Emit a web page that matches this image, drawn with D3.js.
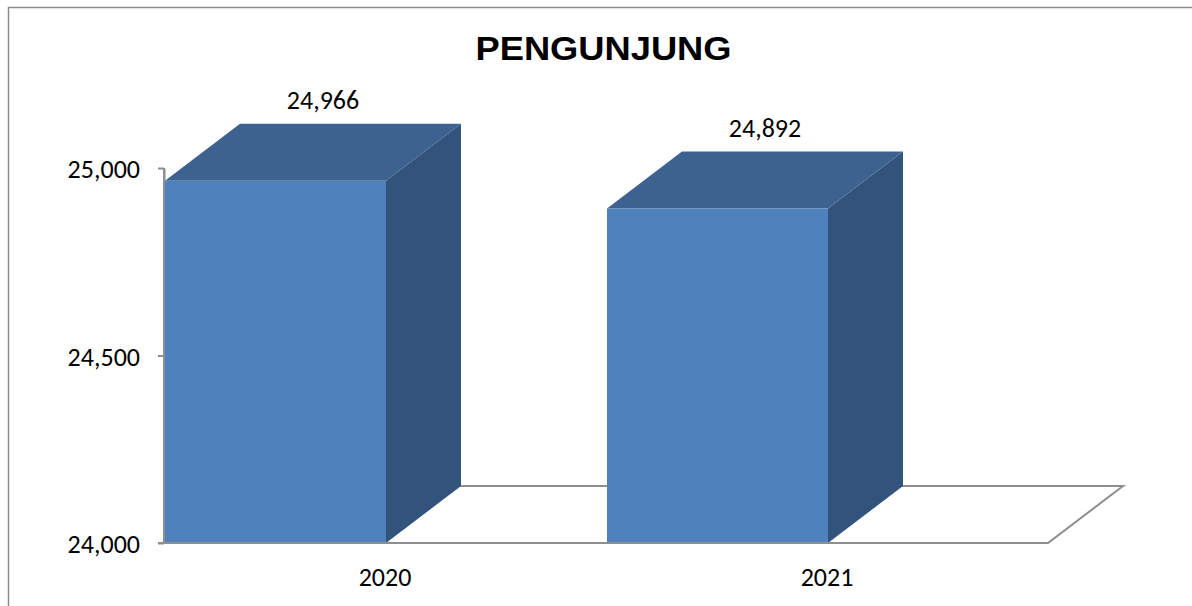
<!DOCTYPE html>
<html>
<head>
<meta charset="utf-8">
<script src="https://cdn.jsdelivr.net/npm/d3@7"></script>
<style>
  html, body { margin: 0; padding: 0; background: #fff; }
  svg { display: block; }
</style>
</head>
<body>
<svg id="chart" width="1192" height="606"></svg>
<script>
const categories = ["2020", "2021"];
const values = [24966, 24892];
const yTicks = [24000, 24500, 25000];
const title = "PENGUNJUNG";

const W = 1192, H = 606;
const svg = d3.select("#chart");
const fmt = d3.format(",");

const plot = { left: 164, right: 1048, top: 168, bottom: 543 };
const depth = { dx: 75, dy: 57 };

const x = d3.scaleBand().domain(categories).range([plot.left, plot.right]);
const y = d3.scaleLinear().domain([24000, 25000]).range([plot.bottom, plot.top]);
const bw = x.bandwidth() / 2;

const colors = { front: "#4f81bd", top: "#3d628f", side: "#32537b", axis: "#8e8e8e", frame: "#8c8c8c" };
const font = "Carlito, Lato, 'Open Sans', sans-serif";
const fs = 26;

// frame
svg.append("path")
  .attr("d", `M8.5,${H} L8.5,7.5 L${W},7.5`)
  .attr("fill", "none").attr("stroke", colors.frame).attr("stroke-width", 1.5);

// title
svg.append("text")
  .attr("transform", `translate(603.5,60) scale(1.1,1)`)
  .attr("text-anchor", "middle")
  .attr("font-family", "Liberation Sans, Arial, sans-serif")
  .attr("font-weight", "bold")
  .attr("font-size", 33)
  .attr("fill", "#000")
  .text(title);

// floor
const fb = y(24000);
svg.append("path")
  .attr("d", `M${plot.left},${fb} L${plot.right},${fb} L${plot.right + depth.dx},${fb - depth.dy} L${plot.left + depth.dx},${fb - depth.dy} Z`)
  .attr("fill", "#fff").attr("stroke", colors.axis).attr("stroke-width", 2).attr("stroke-linejoin", "miter");

// y axis
const yAxis = d3.axisLeft(y).tickValues(yTicks).tickFormat(fmt).tickSize(6).tickSizeOuter(0);
const gy = svg.append("g").attr("transform", `translate(${plot.left},0)`).call(yAxis);
gy.select(".domain").attr("stroke", colors.axis).attr("stroke-width", 2);
gy.selectAll(".tick line").attr("stroke", colors.axis).attr("stroke-width", 2);
gy.selectAll(".tick text")
  .attr("font-family", font)
  .attr("font-size", fs).attr("fill", "#000")
  .attr("x", 0).attr("dy", 0)
  .attr("text-anchor", "end")
  .attr("transform", `translate(-24,9.5)`);

// bars
const bars = svg.append("g");
categories.forEach((c, i) => {
  const x0 = x(c) + 1, x1 = x0 + bw;
  const yt = y(values[i]), yb = y(24000);
  const g = bars.append("g");
  g.append("path")
    .attr("d", `M${x1},${yt} L${x1 + depth.dx},${yt - depth.dy} L${x1 + depth.dx},${yb - depth.dy} L${x1},${yb} Z`)
    .attr("fill", colors.side);
  g.append("path")
    .attr("d", `M${x0},${yt} L${x0 + depth.dx},${yt - depth.dy} L${x1 + depth.dx},${yt - depth.dy} L${x1},${yt} Z`)
    .attr("fill", colors.top);
  g.append("rect")
    .attr("x", x0).attr("y", yt).attr("width", bw).attr("height", yb - yt)
    .attr("fill", colors.front);
  g.append("text")
    .attr("transform", `translate(${x0 + bw / 2 + depth.dx / 2 + 10},${yt - depth.dy - 15})`)
    .attr("text-anchor", "middle")
    .attr("font-family", font)
    .attr("font-size", fs).attr("fill", "#000")
    .text(fmt(values[i]));
});

// axis lines drawn over bars
svg.append("line")
  .attr("x1", plot.left - 6).attr("x2", plot.right)
  .attr("y1", fb).attr("y2", fb)
  .attr("stroke", colors.axis).attr("stroke-width", 2);
svg.append("line")
  .attr("x1", plot.left).attr("x2", plot.left)
  .attr("y1", y(25000)).attr("y2", fb)
  .attr("stroke", colors.axis).attr("stroke-width", 2);

// x labels
const xAxis = d3.axisBottom(x).tickSize(0).tickSizeOuter(0);
const gx = svg.append("g").attr("transform", `translate(0,${fb})`).call(xAxis);
gx.select(".domain").remove();
gx.selectAll(".tick text")
  .attr("font-family", font)
  .attr("font-size", fs).attr("fill", "#000")
  .attr("y", 0).attr("dy", 0)
  .attr("transform", `translate(0,43)`);
</script>
</body>
</html>
